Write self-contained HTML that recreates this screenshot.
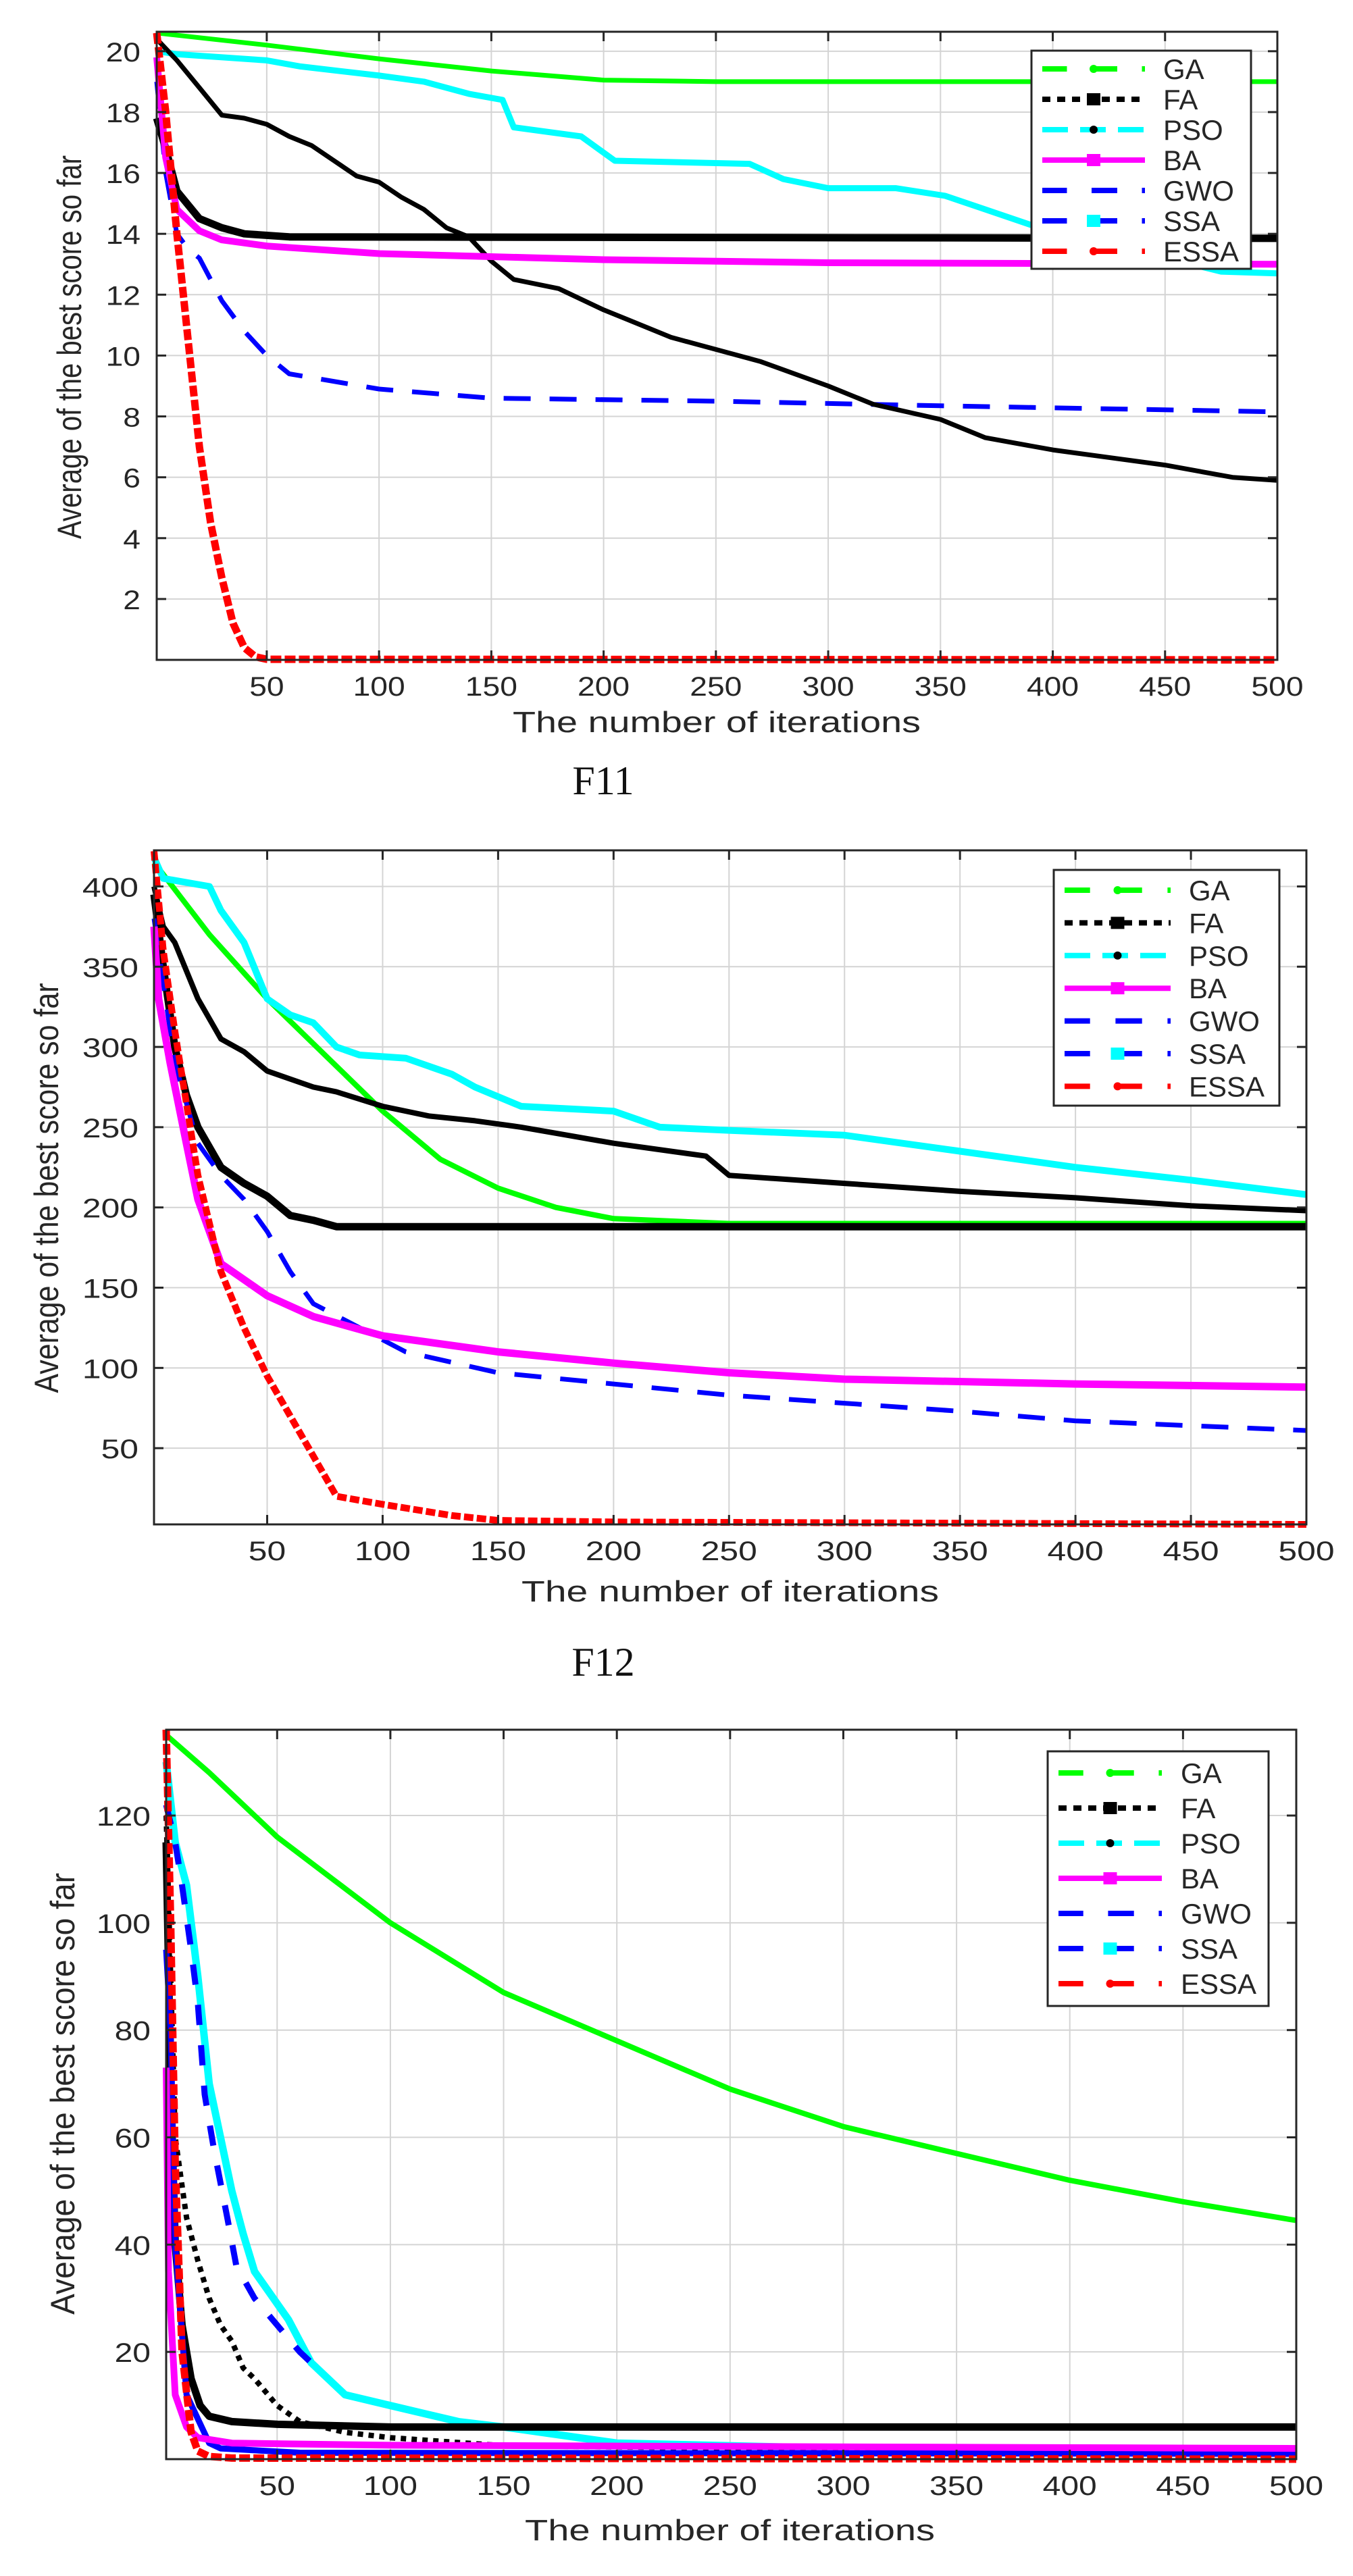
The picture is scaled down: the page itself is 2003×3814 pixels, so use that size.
<!DOCTYPE html>
<html><head><meta charset="utf-8"><style>
html,body{margin:0;padding:0;background:#fff;}
svg{display:block;}
text{font-family:"Liberation Sans",sans-serif;}
</style></head><body>
<svg id="fig" width="2003" height="3814" viewBox="0 0 2003 3814" xmlns="http://www.w3.org/2000/svg">
<rect width="2003" height="3814" fill="#fff"/>
<text x="893" y="1176" text-anchor="middle" font-size="60" fill="#111" style="font-family:'Liberation Serif',serif">F11</text>
<text x="893" y="2481" text-anchor="middle" font-size="60" fill="#111" style="font-family:'Liberation Serif',serif">F12</text>
</svg>
<script>
// ---------- data: F11 ----------
const f11GA   = [[1,20.6],[50,20.2],[100,19.75],[150,19.35],[200,19.05],[250,19.0],[500,19.0]];
const f11FA   = [[1,17.8],[5,16.8],[10,15.4],[20,14.5],[30,14.2],[40,14.0],[60,13.9],[500,13.85]];
const f11PSO  = [[1,20],[10,19.9],[50,19.7],[65,19.5],[100,19.2],[120,19.0],[140,18.6],[155,18.4],[160,17.5],[190,17.2],[205,16.4],[265,16.3],[280,15.8],[300,15.5],[330,15.5],[352,15.25],[370,14.8],[390,14.3],[475,12.76],[500,12.7]];
const f11PSOm = [[1,20.4],[10,19.7],[20,18.8],[30,17.9],[40,17.8],[50,17.6],[60,17.2],[70,16.9],[80,16.4],[90,15.9],[100,15.7],[110,15.2],[120,14.8],[130,14.2],[140,13.9],[150,13.1],[160,12.5],[180,12.2],[200,11.5],[210,11.2],[230,10.6],[250,10.2],[270,9.8],[300,9.0],[320,8.4],[350,7.9],[370,7.3],[400,6.9],[450,6.4],[480,6.0],[500,5.9]];
const f11BA   = [[1,19.8],[5,16.5],[10,14.8],[20,14.1],[30,13.8],[50,13.6],[100,13.35],[200,13.15],[300,13.05],[500,13.0]];
const f11GWO  = [[1,19],[5,16],[10,14],[15,13.5],[20,13.2],[30,11.8],[40,10.8],[50,10.0],[60,9.4],[100,8.9],[150,8.6],[250,8.5],[350,8.35],[500,8.15]];
const f11ESSA = [[1,20.6],[5,18],[10,14],[15,10.5],[20,7],[25,4.5],[30,2.7],[35,1.2],[40,0.4],[45,0.1],[50,0.02],[500,0]];
const f11YTicks = [2,4,6,8,10,12,14,16,18,20];
// ---------- data: F12 ----------
const f12GA   = [[1,415],[25,370],[50,330],[75,295],[100,260],[125,230],[150,212],[175,200],[200,193],[250,190],[500,190]];
const f12FA   = [[1,395],[5,350],[10,300],[15,270],[20,250],[30,225],[40,215],[50,207],[60,195],[70,192],[80,188],[500,188]];
const f12PSO  = [[1,418],[5,405],[25,400],[30,385],[40,365],[50,330],[60,320],[70,315],[80,300],[90,295],[110,293],[130,283],[140,275],[160,263],[200,260],[220,250],[250,248],[300,245],[350,235],[400,225],[450,217],[500,208]];
const f12PSOm = [[1,400],[5,375],[10,365],[20,330],[30,305],[40,297],[50,285],[60,280],[70,275],[80,272],[100,263],[120,257],[140,254],[160,250],[180,245],[200,240],[240,232],[250,220],[300,215],[350,210],[400,206],[450,201],[500,198]];
const f12BA   = [[1,375],[3,330],[8,290],[15,240],[20,205],[30,165],[40,155],[50,145],[70,132],[100,120],[150,110],[200,103],[250,97],[300,93],[400,90],[500,88]];
const f12GWO  = [[1,380],[10,290],[20,240],[30,220],[40,205],[50,185],[60,160],[70,140],[90,125],[110,110],[150,97],[200,90],[250,83],[300,78],[350,73],[400,67],[500,61]];
const f12ESSA = [[1,422],[5,360],[10,310],[15,265],[20,220],[25,190],[30,160],[40,125],[50,95],[60,70],[70,45],[80,20],[100,15],[130,8],[150,5],[200,4],[500,2.5]];
const f12YTicks = [50,100,150,200,250,300,350,400];
// ---------- data: F13 (third panel) ----------
const f13GA   = [[1,135],[20,128],[50,116],[75,108],[100,100],[150,87],[200,78],[250,69],[300,62],[350,57],[400,52],[450,48],[500,44.5]];
const f13FA   = [[1,115],[3,70],[5,40],[8,25],[12,15],[16,10],[20,8],[30,7],[50,6.5],[100,6],[500,6]];
const f13PSO  = [[1,130],[5,115],[10,107],[15,90],[20,70],[30,50],[35,42],[40,35],[45,32],[55,26],[65,18],[80,12],[100,10],[130,7],[150,6],[200,3],[300,2],[500,1.5]];
const f13PSOm = [[1,120],[5,60],[10,45],[15,37],[20,30],[25,25],[30,22],[35,17],[40,15],[50,10],[60,7],[80,5],[100,4],[150,2.5],[500,1]];
const f13BA   = [[1,73],[2,35],[5,12],[10,6],[15,4],[30,3],[100,2.6],[500,2]];
const f13GWO  = [[1,95],[3,80],[5,40],[10,12],[20,3],[25,2],[60,1.2],[500,1]];
const f13SSA  = [[1,122],[5,115],[8,107],[12,95],[15,85],[18,68],[22,58],[28,45],[32,36],[40,30],[50,25],[60,20],[70,16]];
const f13ESSA = [[1,136],[3,100],[5,55],[8,20],[12,5],[15,1.5],[20,0.5],[30,0.2],[500,0]];
const f13YTicks = [20,40,60,80,100,120];
const xTicks = [50,100,150,200,250,300,350,400,450,500];
const legendNames = ["GA","FA","PSO","BA","GWO","SSA","ESSA"];

const NS="http://www.w3.org/2000/svg";
const svg=document.getElementById('fig');
function mk(tag,attrs,parent){const e=document.createElementNS(NS,tag);for(const k in attrs)e.setAttribute(k,attrs[k]);(parent||svg).appendChild(e);return e;}

function chart(id,g,series,yTicks){
  const grp=mk('g',{});
  
  
  const sx=v=>g.L+(v-1)*(g.R-g.L)/499;
  const sy=v=>g.B-(v-g.ymin)*(g.B-g.T)/(g.ymax-g.ymin);
  xTicks.forEach(t=>{const l=mk('line',{x1:sx(t),x2:sx(t),y1:g.T,y2:g.B,stroke:'#d4d4d4','stroke-width':2},grp);
    });
  yTicks.forEach(t=>{const l=mk('line',{x1:g.L,x2:g.R,y1:sy(t),y2:sy(t),stroke:'#d4d4d4','stroke-width':2},grp);
    });
  series.forEach(s=>{
    const pts=s.d.map(p=>sx(p[0]).toFixed(1)+','+sy(p[1]).toFixed(1)).join(' ');
    const pl=mk('polyline',{points:pts,fill:'none',stroke:s.c,'stroke-width':s.w,'stroke-linejoin':'round'},grp);
    if(s.dash)pl.setAttribute('stroke-dasharray',s.dash);
    
    
  });
  const fr=mk('rect',{x:g.L,y:g.T,width:g.R-g.L,height:g.B-g.T,fill:'none',stroke:'#262626','stroke-width':3},grp);
  
  xTicks.forEach(t=>{
    mk('line',{x1:sx(t),x2:sx(t),y1:g.B,y2:g.B-14,stroke:'#262626','stroke-width':3},grp);
    mk('line',{x1:sx(t),x2:sx(t),y1:g.T,y2:g.T+14,stroke:'#262626','stroke-width':3},grp);
    const tx=mk('text',{x:sx(t),y:g.B+53,'text-anchor':'middle','font-size':40,fill:'#262626',textLength:String(t).length*g.cw,lengthAdjust:'spacingAndGlyphs'},grp);
    tx.textContent=t;
    
  });
  yTicks.forEach(t=>{
    mk('line',{x1:g.L,x2:g.L+14,y1:sy(t),y2:sy(t),stroke:'#262626','stroke-width':3},grp);
    mk('line',{x1:g.R,x2:g.R-14,y1:sy(t),y2:sy(t),stroke:'#262626','stroke-width':3},grp);
    const tx=mk('text',{x:g.yl,y:sy(t)+15,'text-anchor':'end','font-size':40,fill:'#262626',textLength:String(t).length*g.cw,lengthAdjust:'spacingAndGlyphs'},grp);
    tx.textContent=t;
    
  });
  const xl=mk('text',{x:g.xlx,y:g.xly,'font-size':44,fill:'#262626',textLength:g.xlw,lengthAdjust:'spacingAndGlyphs'},grp);
  xl.textContent='The number of iterations';
  
  const yl=mk('text',{x:0,y:0,'font-size':50,fill:'#262626','text-anchor':'middle',textLength:g.ylw,lengthAdjust:'spacingAndGlyphs',transform:`translate(${g.ylx},${g.yly}) rotate(-90)`},grp);
  yl.textContent='Average of the best score so far';
  
  const lg=mk('g',{},grp);
  
  mk('rect',{x:g.lx,y:g.ly,width:g.lw,height:g.lh,fill:'#fff',stroke:'#262626','stroke-width':3},lg);
  const s0=g.sx0,s1=g.sx1,L=s1-s0;
  const pat=[L*0.24,L*0.24,L*0.25,L*0.24,L*0.03].map(v=>v.toFixed(1)).join(' ');
  const styles=[
    {c:'#00ff00',dash:pat,m:'dot',mc:'#00ff00'},
    {c:'#000',dash:'12 10',m:'sq',mc:'#000'},
    {c:'#00ffff',dash:'38 18',m:'dot',mc:'#000'},
    {c:'#ff00ff',dash:null,m:'sq',mc:'#ff00ff'},
    {c:'#0000ff',dash:pat,m:null},
    {c:'#0000ff',dash:pat,m:'sq',mc:'#00ffff'},
    {c:'#ff0000',dash:pat,m:'dot',mc:'#ff0000'}];
  legendNames.forEach((n,i)=>{
    const y=g.ry0+i*g.rdy, st=styles[i];
    const e=mk('g',{},lg);
    
    
    const ln=mk('line',{x1:s0,x2:s1,y1:y,y2:y,stroke:st.c,'stroke-width':8},e);
    if(st.dash)ln.setAttribute('stroke-dasharray',st.dash);
    const mx=(s0+s1)/2;
    if(st.m==='sq')mk('rect',{x:mx-10,y:y-9,width:20,height:18,fill:st.mc},e);
    if(st.m==='dot')mk('circle',{cx:mx,cy:y,r:6,fill:st.mc},e);
    const t=mk('text',{x:g.tx,y:y+15,'font-size':42,fill:'#262626'},e);
    t.textContent=n;
  });
}

chart('f11',{L:232,R:1891,T:47,B:977,ymin:0,ymax:20.64,cw:25.7,yl:208,
  xlx:759,xly:1084,xlw:604,ylx:120,yly:514,ylw:568,
  lx:1527,ly:75,lw:325,lh:323,sx0:1543,sx1:1695,tx:1722,ry0:102,rdy:45},
 [{n:'ga',d:f11GA,c:'#00ff00',w:7},
  {n:'gwo',d:f11GWO,c:'#0000ff',w:7,dash:'40 28'},
  {n:'pso',d:f11PSO,c:'#00ffff',w:9},
  {n:'pso-markers',d:f11PSOm,c:'#000',w:7},
  {n:'fa',d:f11FA,c:'#000',w:11},
  {n:'ba',d:f11BA,c:'#ff00ff',w:10},
  {n:'essa',d:f11ESSA,c:'#ff0000',w:11,dash:'16 5'}],f11YTicks);

chart('f12',{L:228,R:1934,T:1259,B:2257,ymin:2.5,ymax:422.5,cw:27.7,yl:205,
  xlx:772,xly:2371,xlw:618,ylx:86,yly:1759,ylw:607,
  lx:1560,ly:1288,lw:334,lh:349,sx0:1576,sx1:1733,tx:1760,ry0:1318,rdy:48.4},
 [{n:'ga',d:f12GA,c:'#00ff00',w:8},
  {n:'pso',d:f12PSO,c:'#00ffff',w:10},
  {n:'pso-markers',d:f12PSOm,c:'#000',w:8},
  {n:'fa',d:f12FA,c:'#000',w:11},
  {n:'gwo',d:f12GWO,c:'#0000ff',w:7,dash:'40 28'},
  {n:'ba',d:f12BA,c:'#ff00ff',w:11},
  {n:'essa',d:f12ESSA,c:'#ff0000',w:10,dash:'14 5'}],f12YTicks);

chart('f13',{L:246,R:1919,T:2561,B:3641,ymin:0,ymax:136,cw:26.7,yl:223,
  xlx:777,xly:3761,xlw:607,ylx:110,yly:3100,ylw:654,
  lx:1551,ly:2593,lw:327,lh:377,sx0:1567,sx1:1720,tx:1748,ry0:2625,rdy:52},
 [{n:'ga',d:f13GA,c:'#00ff00',w:8},
  {n:'pso',d:f13PSO,c:'#00ffff',w:11},
  {n:'ssa',d:f13SSA,c:'#0000ff',w:9,dash:'30 30'},
  {n:'pso-markers',d:f13PSOm,c:'#000',w:8,dash:'8 8'},
  {n:'fa',d:f13FA,c:'#000',w:11},
  {n:'gwo',d:f13GWO,c:'#0000ff',w:9},
  {n:'ba',d:f13BA,c:'#ff00ff',w:10},
  {n:'essa',d:f13ESSA,c:'#ff0000',w:11,dash:'16 5'}],f13YTicks);
</script>
</body></html>
